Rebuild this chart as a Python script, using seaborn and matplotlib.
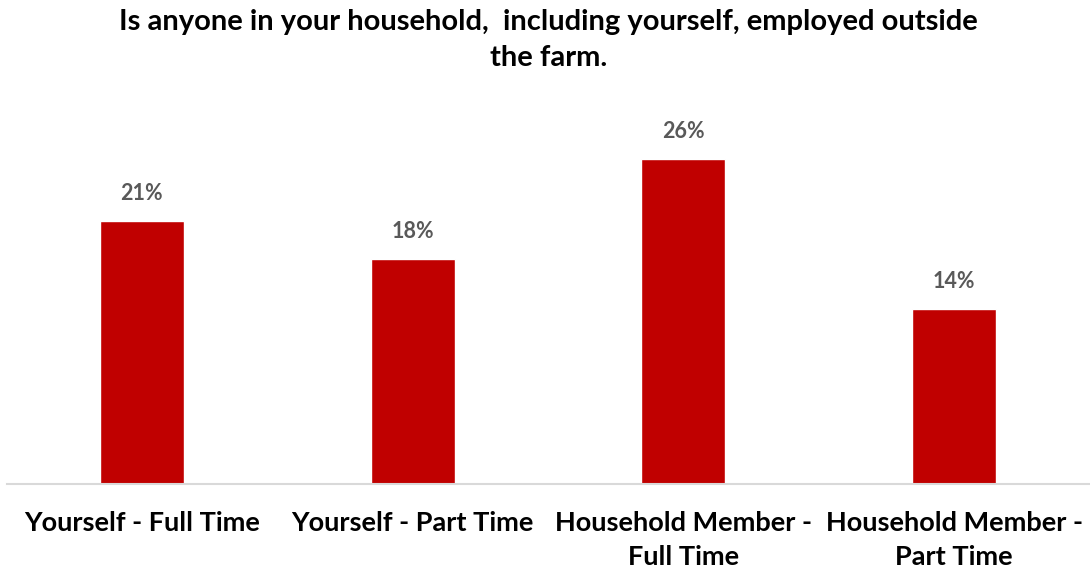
import matplotlib
matplotlib.use("Agg")
import matplotlib.pyplot as plt
import seaborn as sns
import pandas as pd

categories = ["Yourself - Full Time", "Yourself - Part Time",
              "Household Member -\nFull Time", "Household Member -\nPart Time"]
values = [21, 18, 26, 14]
title = "Is anyone in your household,  including yourself, employed outside\nthe farm."

df = pd.DataFrame({"category": categories, "value": values})

sns.set_theme(style="white")
plt.rcParams["font.family"] = ["Lato", "DejaVu Sans"]

fig = plt.figure(figsize=(10.9, 5.74), dpi=100)
ax = fig.add_axes([6.5 / 1090, 90 / 574, 1083 / 1090, 374 / 574])

sns.barplot(data=df, x="category", y="value", color="#C00000",
            width=0.31, saturation=1, ax=ax)

ax.set_xlim(-0.5, 3.5)
ax.set_ylim(0, 29.9)
ax.set_xlabel("")
ax.set_ylabel("")
ax.set_yticks([])
for s in ["top", "right", "left"]:
    ax.spines[s].set_visible(False)
ax.spines["bottom"].set_color("#d9d9d9")
ax.spines["bottom"].set_linewidth(1.5)
ax.tick_params(axis="x", length=0, pad=19.5)
for lab in ax.get_xticklabels():
    lab.set_fontsize(19.5)
    lab.set_fontweight("bold")
    lab.set_color("black")
    lab.set_linespacing(1.5)

for p, v in zip(ax.patches, values):
    ax.annotate(f"{v}%", (p.get_x() + p.get_width() / 2, p.get_height()),
                xytext=(0, 20), textcoords="offset points",
                ha="center", va="center", fontsize=15.5, fontweight="bold",
                color="#595959")

fig.text(0.503, 1 - 40 / 574, title, ha="center", va="center",
         fontsize=21, fontweight="bold", color="black", linespacing=1.47)

fig.savefig("out.png", dpi=100, facecolor="white")
